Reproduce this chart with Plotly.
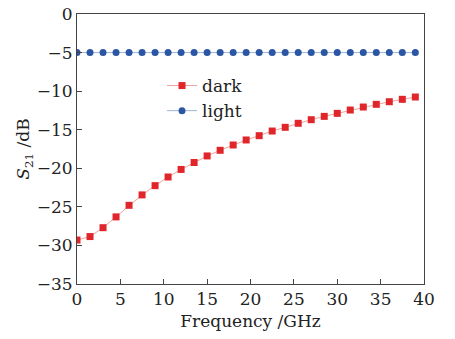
import plotly.graph_objects as go

freq = [0, 1.5, 3, 4.5, 6, 7.5, 9, 10.5, 12, 13.5, 15, 16.5, 18, 19.5, 21,
        22.5, 24, 25.5, 27, 28.5, 30, 31.5, 33, 34.5, 36, 37.5, 39]
dark = [-29.3, -28.85, -27.7, -26.3, -24.8, -23.45, -22.25, -21.13, -20.15,
        -19.25, -18.4, -17.67, -16.98, -16.33, -15.77, -15.17, -14.69, -14.17,
        -13.7, -13.27, -12.88, -12.45, -12.06, -11.71, -11.37, -11.06, -10.76]
light = [-5.0] * len(freq)

FONT = "DejaVu Serif"
FS = 17
TXT = "#222222"

fig = go.Figure()
fig.add_trace(go.Scatter(
    x=freq, y=dark, mode="lines+markers", name="dark",
    line=dict(color="#eea39a", width=1),
    marker=dict(symbol="square", size=7, color="#e0262b"),
))
fig.add_trace(go.Scatter(
    x=freq, y=light, mode="lines+markers", name="light",
    line=dict(color="#9db4d8", width=1),
    marker=dict(symbol="circle", size=7, color="#2a56a3"),
))

axis_common = dict(
    showgrid=False, zeroline=False, showline=True, linecolor="#444444",
    linewidth=1, mirror=True, ticks="inside", ticklen=5, tickcolor="#444444",
    tickfont=dict(family=FONT, size=FS, color=TXT), automargin=False,
)

fig.update_layout(
    width=455, height=339,
    margin=dict(l=77, r=31, t=14, b=55),
    paper_bgcolor="white", plot_bgcolor="white",
    xaxis=dict(range=[0, 40], tickvals=[0, 5, 10, 15, 20, 25, 30, 35, 40],
               title=dict(text="Frequency /GHz", standoff=6,
                          font=dict(family=FONT, size=FS, color=TXT)),
               **axis_common),
    yaxis=dict(range=[-35, 0], tickvals=[-35, -30, -25, -20, -15, -10, -5, 0],
               title=dict(text="<i>S</i><sub>21</sub> /dB", standoff=2,
                          font=dict(family=FONT, size=FS, color=TXT)),
               **axis_common),
    legend=dict(x=0.245, y=0.80, xanchor="left", yanchor="top",
                bgcolor="rgba(0,0,0,0)", tracegroupgap=0,
                font=dict(family=FONT, size=FS, color=TXT),
                itemwidth=30),
    showlegend=True,
)

fig.write_html("out.html",
               config={"displayModeBar": False},
               post_script="document.body.style.margin='0';document.body.style.overflow='hidden';")
